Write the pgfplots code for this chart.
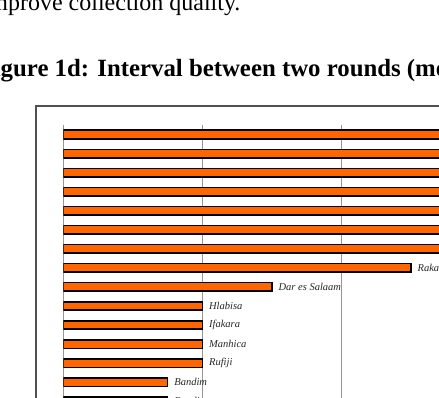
\documentclass[border=0pt]{standalone}
\usepackage{pgfplots}
\pgfplotsset{compat=1.18}
\usepackage{pgfplotstable}
\usepackage{fontspec}
\setmainfont{Liberation Serif}
\definecolor{barorange}{RGB}{255,102,0}
\definecolor{gridgray}{RGB}{150,150,150}
\definecolor{framegray}{RGB}{80,80,80}
\pgfplotstableread[col sep=comma]{
idx,val,name
0,12,Agincourt
1,12,Butajira
2,12,Gwembe
3,12,Mlomp
4,12,Niakhar
5,12,Nouna
6,12,Bandafassi
7,10,Rakai
8,6,Dar es Salaam
9,4,Hlabisa
10,4,Ifakara
11,4,Manhica
12,4,Rufiji
13,3,Bandim
14,3,Bandim
}\sitedata
\begin{document}
\begin{tikzpicture}
\useasboundingbox (0,0) rectangle (439pt,398pt);
\clip (0,0) rectangle (439pt,398pt);
\node[anchor=base west, inner sep=0pt, font=\fontsize{24}{28}\selectfont] at (-17.5pt,387pt) {improve collection quality.};
\node[anchor=base west, inner sep=0pt, font=\bfseries\fontsize{24.8}{30}\selectfont] at (-21.5pt,321pt) {Figure 1d: Interval between two rounds (months)};
\draw[framegray, line width=1.1pt] (36pt,292pt) rectangle (700pt,-100pt);
\begin{axis}[
  at={(63.3pt,273pt)}, anchor=north west,
  xbar, scale only axis,
  width=556pt, height=295.3pt,
  xmin=0, xmax=16, ymin=-0.5, ymax=15,
  y dir=reverse,
  bar width=8.5pt,
  xtick={0,4,8,12,16}, xticklabels={},
  ytick=\empty,
  xmajorgrids, grid style={gridgray, line width=0.8pt},
  axis line style={draw=none}, tick style={draw=none},
  nodes near coords, point meta=explicit symbolic,
  every node near coord/.append style={anchor=west, inner sep=0pt, xshift=6pt,
    font=\fontsize{10.5}{12}\selectfont\itshape, text=black!85},
]
\addplot[fill=barorange, draw=black, line width=1.6pt]
  table[x=val, y=idx, meta=name] {\sitedata};
\end{axis}
\end{tikzpicture}
\end{document}
